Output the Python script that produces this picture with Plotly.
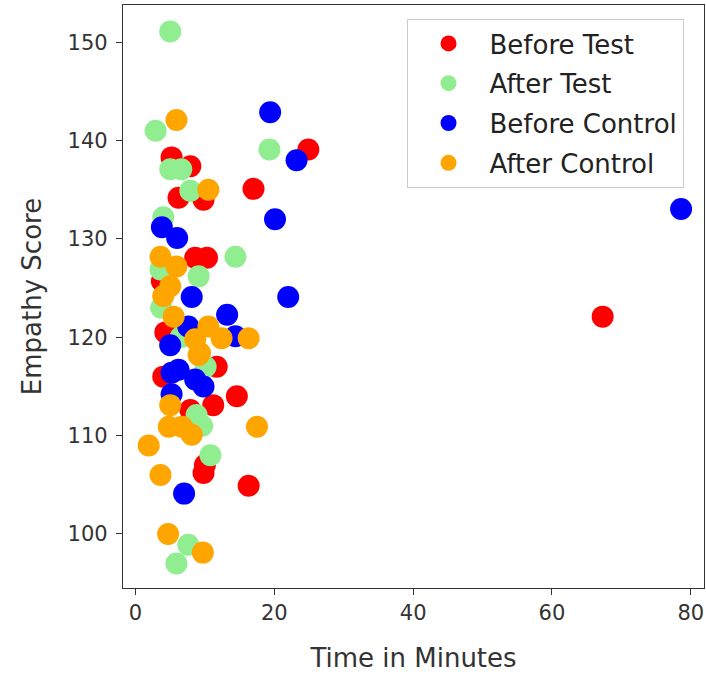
import plotly.graph_objects as go

# Before Test (red)
bt_x = [24.9, 17.0, 5.2, 7.9, 6.2, 9.8, 8.6, 10.3, 3.8, 11.7, 4.0, 14.6, 11.2, 9.8, 10.0, 16.3, 67.3, 7.9, 4.5, 4.3]
bt_y = [139.1, 135.1, 138.3, 137.4, 134.2, 134.0, 128.1, 128.1, 125.7, 117.0, 116.0, 114.0, 113.1, 106.2, 107.0, 104.9, 122.1, 112.6, 127.0, 120.5]

# After Test (green)
at_x = [5.0, 2.9, 19.3, 5.0, 6.6, 7.9, 4.0, 14.4, 9.1, 3.6, 3.7, 8.8, 10.1, 10.8, 7.6, 5.9, 6.5, 9.6]
at_y = [151.1, 141.0, 139.1, 137.1, 137.1, 134.9, 132.2, 128.2, 126.2, 126.9, 123.0, 112.1, 117.0, 108.0, 98.9, 97.0, 120.0, 111.0]

# Before Control (blue)
bc_x = [19.4, 23.2, 20.1, 3.8, 6.0, 22.0, 8.1, 13.2, 14.4, 5.0, 7.6, 6.2, 5.2, 8.6, 9.8, 5.2, 7.0, 78.6]
bc_y = [142.9, 138.0, 132.0, 131.2, 130.1, 124.1, 124.1, 122.3, 120.1, 119.2, 121.1, 116.7, 116.4, 115.7, 115.0, 114.2, 104.1, 133.05]

# After Control (orange)
ac_x = [5.9, 10.5, 3.6, 5.9, 5.0, 4.0, 5.5, 10.5, 8.6, 12.4, 9.3, 16.3, 9.1, 5.0, 17.5, 4.8, 6.7, 8.1, 1.9, 3.6, 4.7, 9.7]
ac_y = [142.1, 135.0, 128.2, 127.2, 125.2, 124.2, 122.1, 121.1, 119.8, 119.9, 118.4, 119.9, 118.2, 113.1, 110.9, 110.9, 110.9, 110.1, 109.0, 106.0, 100.0, 98.1]

series = [
    ("Before Test", bt_x, bt_y, "#ff0000"),
    ("After Test", at_x, at_y, "#90ee90"),
    ("Before Control", bc_x, bc_y, "#0000ff"),
    ("After Control", ac_x, ac_y, "#ffa500"),
]

fig = go.Figure()
for name, xs, ys, col in series:
    fig.add_trace(go.Scatter(
        x=xs, y=ys, mode="markers", name=name, legendgroup=name,
        marker=dict(color=col, size=22, line=dict(width=0)),
    ))

font_family = "DejaVu Sans"
axis_common = dict(
    showline=True, linecolor="#333333", linewidth=1.3, mirror=True,
    ticks="outside", ticklen=6, tickwidth=1.2, tickcolor="#333333",
    showgrid=False, zeroline=False,
    tickfont=dict(family=font_family, size=21, color="#333333"),
)

fig.update_layout(
    width=706, height=675,
    margin=dict(l=123, r=2, t=5, b=87),
    paper_bgcolor="white", plot_bgcolor="white",
    font=dict(family=font_family, color="#333333"),
    showlegend=True,
    legend=dict(
        x=0.488, y=0.976, xanchor="left", yanchor="top",
        bgcolor="white", bordercolor="#cccccc", borderwidth=1,
        font=dict(family=font_family, size=26, color="#222222"),
        tracegroupgap=3, traceorder="grouped",
        itemsizing="trace", itemwidth=72,
    ),
    xaxis=dict(range=[-1.8, 81.9], tickvals=[0, 20, 40, 60, 80],
               title=dict(text="Time in Minutes", font=dict(family=font_family, size=26, color="#333333"), standoff=24),
               **axis_common),
    yaxis=dict(range=[94.5, 153.8], tickvals=[100, 110, 120, 130, 140, 150],
               ticklabelstandoff=4,
               title=dict(text="Empathy Score", font=dict(family=font_family, size=26, color="#333333"), standoff=18),
               **axis_common),
)

fig.write_html("out.html")
